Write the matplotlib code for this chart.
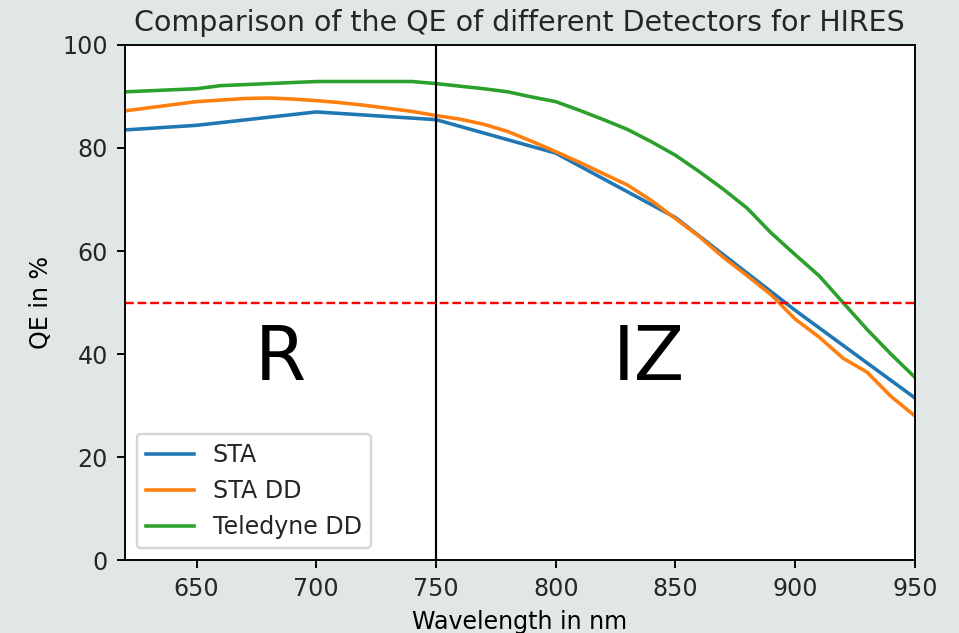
import matplotlib
matplotlib.use("Agg")
import matplotlib.pyplot as plt

# STA: coarse data points
wl_sta = [620, 650, 700, 750, 800, 850, 900, 950]
qe_sta = [83.5, 84.4, 87.0, 85.5, 79.0, 66.5, 48.5, 31.5]

# STA DD and Teledyne DD: 10 nm steps
wl_dd = [620, 630, 640, 650, 660, 670, 680, 690, 700, 710, 720, 730,
         740, 750, 760, 770, 780, 790, 800, 810, 820, 830, 840, 850,
         860, 870, 880, 890, 900, 910, 920, 930, 940, 950]
qe_sta_dd = [87.2, 87.8, 88.4, 89.0, 89.3, 89.6, 89.7, 89.5, 89.2, 88.8,
             88.3, 87.7, 87.1, 86.3, 85.6, 84.6, 83.2, 81.3, 79.3, 77.2,
             75.0, 72.8, 69.8, 66.3, 62.8, 58.8, 55.2, 51.5, 46.8, 43.3,
             39.2, 36.5, 31.8, 28.0]
qe_teledyne = [90.9, 91.1, 91.3, 91.5, 92.1, 92.3, 92.5, 92.7, 92.9, 92.9,
               92.9, 92.9, 92.9, 92.5, 92.0, 91.5, 90.9, 89.9, 89.0, 87.3,
               85.5, 83.6, 81.2, 78.6, 75.4, 72.0, 68.3, 63.5, 59.3, 55.2,
               50.0, 44.8, 40.0, 35.5]

band_edge = 750
half_qe = 50

plt.rcParams['text.color'] = '#262626'
plt.rcParams['xtick.labelcolor'] = '#262626'
plt.rcParams['ytick.labelcolor'] = '#262626'

dpi = 171
fig = plt.figure(figsize=(959 / dpi, 633 / dpi), dpi=dpi, facecolor='#e1e7e7')
ax = fig.add_axes([0.130, 0.115, 0.824, 0.814])

ax.plot(wl_sta, qe_sta, label='STA')
ax.plot(wl_dd, qe_sta_dd, label='STA DD')
ax.plot(wl_dd, qe_teledyne, label='Teledyne DD')

ax.axvline(band_edge, color='k', linewidth=0.9)
ax.axhline(half_qe, color='r', linestyle='--', linewidth=1.0)

ax.text(685, 39, 'R', fontsize=31, color='k', ha='center', va='center')
ax.text(839, 39, 'IZ', fontsize=31, color='k', ha='center', va='center')

ax.set_xlim(620, 950)
ax.set_ylim(0, 100)
ax.set_xticks([650, 700, 750, 800, 850, 900, 950])
ax.set_yticks([0, 20, 40, 60, 80, 100])
ax.set_xlabel('Wavelength in nm')
ax.set_ylabel('QE in %')
ax.set_title('Comparison of the QE of different Detectors for HIRES', fontsize=12)
ax.legend(loc='lower left')

fig.savefig('out.png', dpi=dpi, facecolor=fig.get_facecolor())
